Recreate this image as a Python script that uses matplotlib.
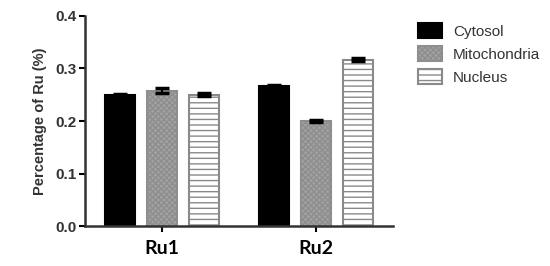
import matplotlib.pyplot as plt
import numpy as np

groups = ["Ru1", "Ru2"]
series = ["Cytosol", "Mitochondria", "Nucleus"]
cytosol = [0.250, 0.267]
mitochondria = [0.258, 0.200]
nucleus = [0.250, 0.317]
cytosol_err = [0.002, 0.002]
mitochondria_err = [0.004, 0.002]
nucleus_err = [0.003, 0.003]

plt.rcParams['font.family'] = ['Liberation Sans', 'DejaVu Sans']
plt.rcParams['hatch.linewidth'] = 1.0
fig = plt.figure(figsize=(5.5, 2.66), dpi=100)
ax = fig.add_axes([0.1545, 0.150, 0.56, 0.790])

x = np.arange(len(groups))
w = 0.195
step = 0.273
styles = [
    dict(color="black", edgecolor="black"),
    dict(color="#a2a2a2", edgecolor="#8e8e8e", hatch="xxxxxx"),
    dict(color="white", edgecolor="#8a8a8a", hatch="---"),
]
vals = [cytosol, mitochondria, nucleus]
errs = [cytosol_err, mitochondria_err, nucleus_err]
for i, (name, v, e, st) in enumerate(zip(series, vals, errs, styles)):
    ax.bar(x + (i - 1) * step, v, w, yerr=e, label=name, linewidth=1.5,
           error_kw=dict(ecolor="black", capsize=5, elinewidth=1.5, capthick=2.5), **st)

ax.set_xlim(-0.5, 1.5)
ax.set_ylim(0, 0.4)
ax.set_yticks([0.0, 0.1, 0.2, 0.3, 0.4])
ax.set_yticklabels(["0.0", "0.1", "0.2", "0.3", "0.4"], fontweight="bold", fontsize=11, color="#333333")
ax.set_xticks(x)
ax.set_xticklabels(groups, fontweight="bold", fontsize=14, family="Lato")
ax.tick_params(axis="x", pad=6, length=4, width=1.5)
ax.tick_params(axis="y", length=4, width=1.5, pad=2)
ax.set_ylabel("Percentage of Ru (%)", fontweight="bold", fontsize=10.5, color="#333333", labelpad=6)
for s in ["top", "right"]:
    ax.spines[s].set_visible(False)
for s in ["left", "bottom"]:
    ax.spines[s].set_linewidth(1.8)
    ax.spines[s].set_color("#333333")

fig.legend(loc="upper left", bbox_to_anchor=(0.735, 0.965), frameon=False, fontsize=11,
           handlelength=1.6, handleheight=1.1, labelspacing=0.5, handletextpad=0.7,
           labelcolor="#333333")

fig.savefig("out.png", dpi=100)
